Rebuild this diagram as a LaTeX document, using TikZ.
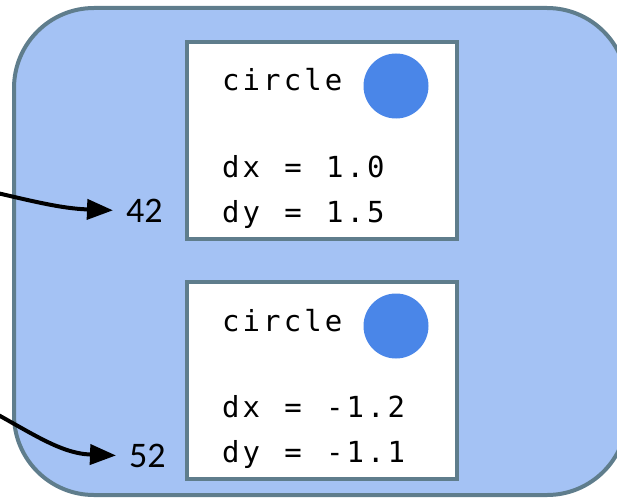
\documentclass[tikz,border=0pt]{standalone}
\usepackage{fontspec}
\newfontfamily\codefont[LetterSpace=10.6,WordSpace=1.18]{DejaVu Sans Mono}
\newfontfamily\numfont{Carlito}
\usetikzlibrary{arrows.meta}
\definecolor{panelblue}{HTML}{A4C2F4}
\definecolor{slate}{HTML}{5F7D8C}
\definecolor{dotblue}{HTML}{4A86E8}

\begin{document}
\begin{tikzpicture}[x=1pt, y=1pt,
	objbox/.style={draw=slate, line width=4pt, fill=white, minimum width=270pt, minimum height=197pt, inner sep=0pt},
	dot/.style={circle, fill=dotblue, minimum size=65pt, inner sep=0pt},
	code/.style={anchor=base west, inner sep=0pt, font=\codefont\fontsize{29}{33}\selectfont},
	numtext/.style={anchor=base west, inner xsep=13pt, inner ysep=0pt, font=\numfont\fontsize{36}{40}\selectfont},
	refarrow/.style={line width=4pt, -{Triangle[length=26pt,width=20pt]}}]
	\useasboundingbox (0,0) rectangle (617,499);
	\clip (0,0) rectangle (617,499);
	% the heap
	\draw[slate, fill=panelblue, line width=4pt, rounded corners=80pt] (14,491) rectangle (627,4);
	% first object
	\node[objbox] (obj1) at (322,358.5) {};
	\node[dot] (dot1) at (396,413) {};
	\node[code] (kind1) at (222,408) {circle};
	\node[code] (dx1) at (222,322) {dx = 1.0};
	\node[code] (dy1) at (222,277) {dy = 1.5};
	% second object
	\node[objbox] (obj2) at (322,118.5) {};
	\node[dot] (dot2) at (396,173) {};
	\node[code] (kind2) at (222,168) {circle};
	\node[code] (dx2) at (222,82) {dx = -1.2};
	\node[code] (dy2) at (222,37) {dy = -1.1};
	% addresses
	\node[numtext] (num1) at (113,277) {42};
	\node[numtext] (num2) at (116,32) {52};
	\coordinate (src1) at (-20,310);
	\coordinate (src2) at (-20,94);
	\draw[refarrow] (src1) to[out=-13,in=178] (num1.west);
	\draw[refarrow] (src2) to[out=-28,in=178] (num2.west);
\end{tikzpicture}
\end{document}
